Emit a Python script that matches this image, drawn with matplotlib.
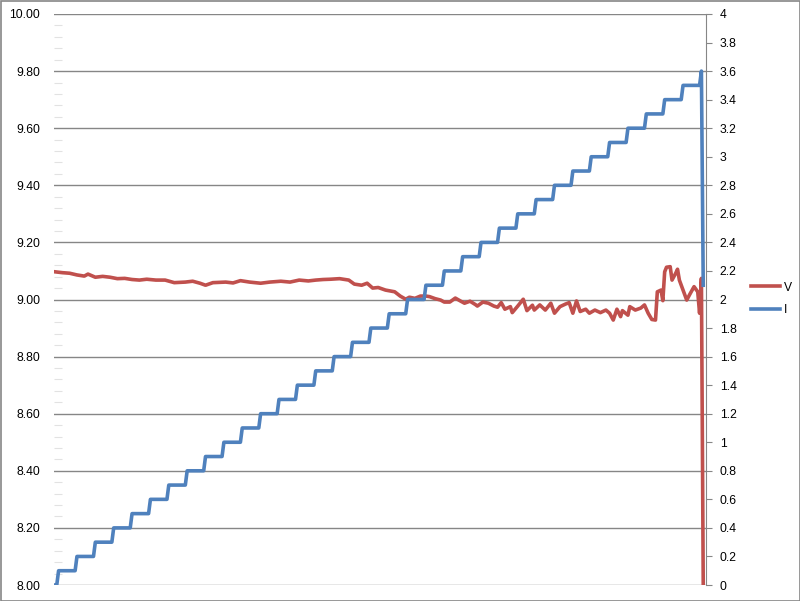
import matplotlib
matplotlib.use("Agg")
import matplotlib.pyplot as plt
import numpy as np
from matplotlib.patches import Rectangle
from matplotlib.ticker import MultipleLocator, FormatStrFormatter

plt.rcParams['font.family'] = ['Liberation Sans', 'DejaVu Sans']

# sample count on the category axis
n_samples = 354

# current (I): staircase levels and how many samples each level lasts
i_levels = [0.0, 0.1, 0.2, 0.3, 0.4, 0.5, 0.6, 0.7, 0.8, 0.9, 1.0,
            1.1, 1.2, 1.3, 1.4, 1.5, 1.6, 1.7, 1.8, 1.9, 2.0,
            2.1, 2.2, 2.3, 2.4, 2.5, 2.6, 2.7, 2.8, 2.9, 3.0,
            3.1, 3.2, 3.3, 3.4, 3.5, 3.6, 2.1]
i_counts = [2] + [10] * 35 + [1, 1]

# voltage (V): sample index and reading
v_idx = [0, 4, 8, 12, 16, 18, 22, 26, 30, 34, 38, 42, 46, 50, 55, 60, 65,
         71, 75, 79, 82, 86, 93, 97, 101, 106, 112, 117, 123, 128, 133,
         138, 142, 146, 150, 155, 160, 163, 167, 170, 173, 176, 180, 185,
         188, 191, 193, 196, 199, 202, 204, 207, 210, 212, 215, 218, 221,
         223, 226, 229, 230, 233, 236, 239, 241, 243, 245, 248, 249, 252,
         255, 257, 260, 261, 264, 267, 270, 272, 275, 278, 280, 282, 284,
         286, 289, 291, 294, 297, 300, 302, 304, 306, 308, 309, 312, 313,
         316, 319, 321, 323, 325, 327, 328, 330, 331, 332, 333, 335, 336,
         338, 339, 340, 342, 344, 346, 348, 350, 351, 352, 353]
v_vals = [9.097, 9.094, 9.092, 9.086, 9.082, 9.089, 9.078, 9.081, 9.078,
          9.073, 9.074, 9.070, 9.068, 9.071, 9.068, 9.068, 9.059, 9.061,
          9.064, 9.057, 9.050, 9.059, 9.061, 9.058, 9.066, 9.061, 9.057,
          9.061, 9.064, 9.061, 9.068, 9.065, 9.068, 9.070, 9.071, 9.073,
          9.068, 9.054, 9.050, 9.057, 9.040, 9.042, 9.033, 9.027, 9.012,
          9.001, 9.008, 9.004, 9.012, 9.012, 9.010, 9.003, 8.998, 8.991,
          8.991, 9.005, 8.994, 8.987, 8.994, 8.982, 8.977, 8.991, 8.987,
          8.977, 8.973, 8.989, 8.966, 8.975, 8.954, 8.977, 9.001, 8.961,
          8.980, 8.963, 8.981, 8.963, 8.987, 8.952, 8.975, 8.984, 8.989,
          8.952, 8.995, 8.958, 8.966, 8.952, 8.963, 8.954, 8.963, 8.952,
          8.928, 8.966, 8.940, 8.961, 8.945, 8.975, 8.963, 8.970, 8.981,
          8.952, 8.930, 8.928, 9.027, 9.033, 8.996, 9.097, 9.113, 9.115,
          9.068, 9.092, 9.106, 9.068, 9.033, 8.998, 9.022, 9.045, 9.027,
          8.952, 9.074, 8.0]

v_color = '#C0504D'
i_color = '#4F81BD'
grid_color = '#868686'

i_vals = np.repeat(i_levels, i_counts)
x_i = np.arange(len(i_vals))

fig = plt.figure(figsize=(8.0, 6.01), dpi=100)
ax = fig.add_axes([54 / 800, 16 / 601, 652 / 800, 571 / 601])
ax2 = ax.twinx()

ax.plot(v_idx, v_vals, color=v_color, lw=2.6, label='V', solid_joinstyle='round')
ax2.plot(x_i, i_vals, color=i_color, lw=2.6, label='I', solid_joinstyle='round')

ax.set_xlim(-0.5, n_samples + 0.5)
ax.set_ylim(8.0, 10.0)
ax2.set_ylim(0, 4)

ax.yaxis.set_major_locator(MultipleLocator(0.2))
ax.yaxis.set_minor_locator(MultipleLocator(0.04))
ax.yaxis.set_major_formatter(FormatStrFormatter('%.2f'))
ax.grid(axis='y', which='major', color=grid_color, lw=1)
ax.set_axisbelow(True)
ax.tick_params(axis='y', which='major', length=0, pad=10, labelsize=8.7)
ax.tick_params(axis='y', which='minor', direction='in', length=6,
               color='#E2E2E2', width=0.8)
ax.tick_params(axis='x', which='both', bottom=False, labelbottom=False)

ax2.yaxis.set_major_locator(MultipleLocator(0.2))
ax2.yaxis.set_major_formatter(FormatStrFormatter('%g'))
ax2.tick_params(axis='y', direction='out', length=4, color=grid_color,
                pad=6, labelsize=8.7)

for a in (ax, ax2):
    for side in ('left', 'top', 'bottom', 'right'):
        a.spines[side].set_visible(False)
ax2.spines['right'].set_visible(True)
ax2.spines['right'].set_color(grid_color)

h1, l1 = ax.get_legend_handles_labels()
h2, l2 = ax2.get_legend_handles_labels()
fig.legend(h1 + h2, l1 + l2, loc='center left',
           bbox_to_anchor=(740 / 800, 1 - 299 / 601), frameon=False,
           fontsize=8.7, handlelength=2.4, handletextpad=0.35,
           labelspacing=0.9)

fig.patches.append(Rectangle((0.5 / 800, 0.5 / 601), 799 / 800, 600 / 601,
                             transform=fig.transFigure, fill=False,
                             edgecolor='#868686', lw=1.2))

fig.savefig('out.png', dpi=100)
